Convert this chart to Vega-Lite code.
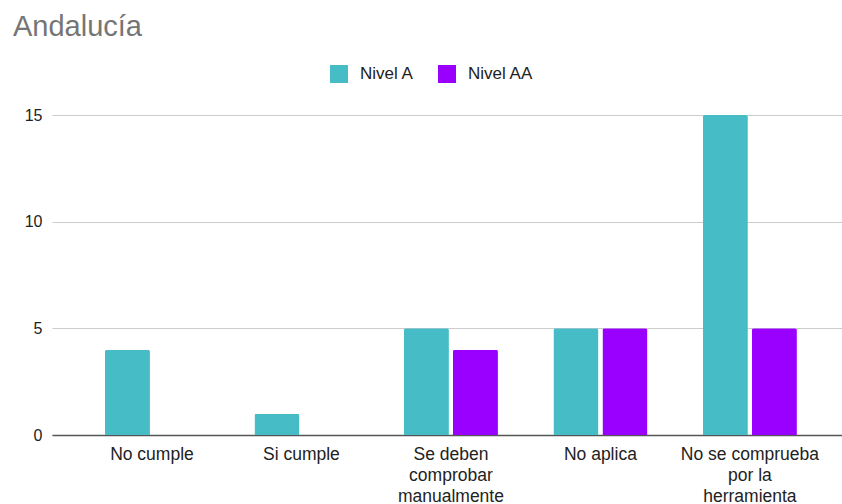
{
  "$schema": "https://vega.github.io/schema/vega-lite/v6.json",
  "autosize": "none",
  "width": 790,
  "height": 320,
  "padding": {"left": 52, "top": 115, "right": 0, "bottom": 69},
  "background": "white",
  "title": {
    "text": "Andalucía",
    "anchor": "start",
    "frame": "group",
    "dx": -39,
    "offset": 23,
    "fontSize": 29,
    "fontWeight": "normal",
    "font": "Liberation Sans",
    "color": "#757575"
  },
  "data": {
    "values": [
      {"categoria": "No cumple", "nivel": "Nivel A", "valor": 4},
      {"categoria": "No cumple", "nivel": "Nivel AA", "valor": 0},
      {"categoria": "Si cumple", "nivel": "Nivel A", "valor": 1},
      {"categoria": "Si cumple", "nivel": "Nivel AA", "valor": 0},
      {"categoria": "Se deben comprobar manualmente", "nivel": "Nivel A", "valor": 5},
      {"categoria": "Se deben comprobar manualmente", "nivel": "Nivel AA", "valor": 4},
      {"categoria": "No aplica", "nivel": "Nivel A", "valor": 5},
      {"categoria": "No aplica", "nivel": "Nivel AA", "valor": 5},
      {"categoria": "No se comprueba por la herramienta", "nivel": "Nivel A", "valor": 15},
      {"categoria": "No se comprueba por la herramienta", "nivel": "Nivel AA", "valor": 5}
    ]
  },
  "mark": {"type": "bar", "cornerRadiusTopLeft": 2, "cornerRadiusTopRight": 2},
  "encoding": {
    "x": {
      "field": "categoria",
      "type": "nominal",
      "sort": null,
      "scale": {"paddingInner": 0.371, "paddingOuter": 0.328, "align": 0.54},
      "axis": {
        "title": null,
        "labelAngle": 0,
        "labelFont": "Liberation Sans",
        "labelFontSize": 17.5,
        "labelColor": "#222222",
        "labelPadding": 10,
        "labelLineHeight": 21,
        "labelBaseline": "top",
        "ticks": false,
        "domainColor": "#555555",
        "domainWidth": 1.5,
        "grid": false,
        "labelExpr": "datum.label == 'Se deben comprobar manualmente' ? ['Se deben', 'comprobar', 'manualmente'] : datum.label == 'No se comprueba por la herramienta' ? ['No se comprueba', 'por la', 'herramienta'] : datum.label"
      }
    },
    "xOffset": {
      "field": "nivel",
      "type": "nominal",
      "scale": {"paddingInner": 0.082, "paddingOuter": 0}
    },
    "y": {
      "field": "valor",
      "type": "quantitative",
      "scale": {"domain": [0, 15], "nice": false},
      "axis": {
        "title": null,
        "values": [0, 5, 10, 15],
        "labelFont": "Liberation Sans",
        "labelFontSize": 16,
        "labelColor": "#222222",
        "labelPadding": 10,
        "ticks": false,
        "domain": false,
        "gridColor": "#cccccc",
        "gridWidth": 1
      }
    },
    "color": {
      "field": "nivel",
      "type": "nominal",
      "scale": {"domain": ["Nivel A", "Nivel AA"], "range": ["#46BDC6", "#9900FF"]},
      "legend": {
        "title": null,
        "orient": "none",
        "direction": "horizontal",
        "legendX": 278,
        "legendY": -50,
        "padding": 0,
        "symbolType": "square",
        "symbolSize": 324,
        "symbolStrokeWidth": 0,
        "symbolOpacity": 1,
        "labelFont": "Liberation Sans",
        "labelFontSize": 17,
        "labelColor": "#222222",
        "labelOffset": 12,
        "columnPadding": 24
      }
    }
  },
  "config": {"view": {"stroke": null}}
}
